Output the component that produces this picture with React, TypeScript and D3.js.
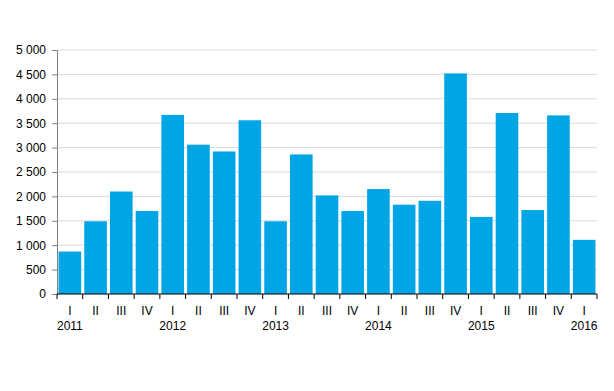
import React, { useEffect, useRef } from 'react';
import * as d3 from 'd3';

const quarters = ['I', 'II', 'III', 'IV', 'I', 'II', 'III', 'IV', 'I', 'II', 'III', 'IV', 'I', 'II', 'III', 'IV', 'I', 'II', 'III', 'IV', 'I'];
const years = ['2011', '', '', '', '2012', '', '', '', '2013', '', '', '', '2014', '', '', '', '2015', '', '', '', '2016'];
const values = [870, 1490, 2100, 1700, 3670, 3060, 2920, 3560, 1490, 2860, 2020, 1700, 2150, 1830, 1910, 4520, 1580, 3710, 1720, 3660, 1110];
const yTicks = [0, 500, 1000, 1500, 2000, 2500, 3000, 3500, 4000, 4500, 5000];

const App: React.FC = () => {
  const svgRef = useRef<SVGSVGElement>(null);

  useEffect(() => {
    if (!svgRef.current) return;
    const svg = d3.select(svgRef.current);
    svg.selectAll('*').remove();

    const margin = { top: 50, right: 17, bottom: 97, left: 57 };
    const width = 614 - margin.left - margin.right;
    const height = 391 - margin.top - margin.bottom;
    const fmt = (d: number) => d3.format(',')(d).replace(/,/g, ' ');

    const g = svg.append('g').attr('transform', `translate(${margin.left},${margin.top})`);

    const idx = values.map((_, i) => i);
    const x = d3.scaleBand<number>().domain(idx).range([0, width]).paddingInner(0.12).paddingOuter(0.06);
    const y = d3.scaleLinear().domain([0, 5000]).range([height, 0]);

    // gridlines
    g.selectAll('line.grid')
      .data(yTicks.filter(t => t > 0))
      .enter()
      .append('line')
      .attr('x1', 0)
      .attr('x2', width)
      .attr('y1', d => y(d))
      .attr('y2', d => y(d))
      .attr('stroke', '#d9d9d9')
      .attr('stroke-width', 1);

    // bars
    g.selectAll('rect.bar')
      .data(values)
      .enter()
      .append('rect')
      .attr('x', (_, i) => x(i)!)
      .attr('y', d => y(d))
      .attr('width', x.bandwidth())
      .attr('height', d => height - y(d))
      .attr('fill', '#00a5e6');

    // y axis
    const yAxis = g.append('g')
      .call(d3.axisLeft(y).tickValues(yTicks).tickSize(5).tickPadding(6).tickFormat(d => fmt(d as number)));
    yAxis.select('.domain').attr('stroke', '#808080');
    yAxis.selectAll('.tick line').attr('stroke', '#808080');
    yAxis.selectAll('text')
      .attr('fill', '#000')
      .style('font-size', '12px')
      .style('font-family', 'Liberation Sans, Arial, sans-serif');

    // x axis
    const step = x.step();
    const boundaries = d3.range(values.length + 1).map(i => i * step);
    const xa = g.append('g').attr('transform', `translate(0,${height})`);
    xa.append('line').attr('x1', 0).attr('x2', width).attr('stroke', '#000');
    xa.selectAll('line.tk')
      .data(boundaries)
      .enter()
      .append('line')
      .attr('x1', d => d)
      .attr('x2', d => d)
      .attr('y1', 0)
      .attr('y2', 5)
      .attr('stroke', '#000');

    xa.selectAll('text.q')
      .data(quarters)
      .enter()
      .append('text')
      .attr('x', (_, i) => x(i)! + x.bandwidth() / 2)
      .attr('y', 21)
      .attr('text-anchor', 'middle')
      .style('font-size', '12px')
      .style('font-family', 'Liberation Sans, Arial, sans-serif')
      .text(d => d);

    xa.selectAll('text.yr')
      .data(years)
      .enter()
      .append('text')
      .attr('x', (_, i) => x(i)! + x.bandwidth() / 2)
      .attr('y', 36)
      .attr('text-anchor', 'middle')
      .style('font-size', '12px')
      .style('font-family', 'Liberation Sans, Arial, sans-serif')
      .text(d => d);
  }, []);

  return (
    <svg ref={svgRef} width={614} height={391} style={{ position: 'absolute', left: 0, top: 0, background: '#fff' }} />
  );
};

export default App;
